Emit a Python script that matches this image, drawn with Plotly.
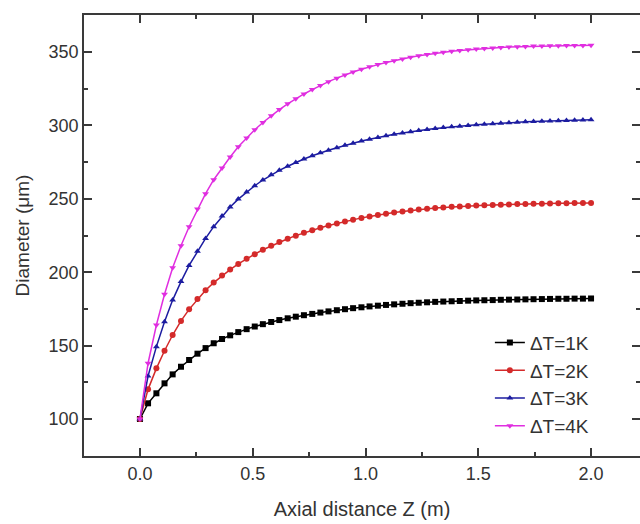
import plotly.graph_objects as go

# Axial distance Z (m) sample positions
z = [0.0, 0.036, 0.073, 0.109, 0.145, 0.182, 0.218, 0.255, 0.291, 0.327,
     0.364, 0.4, 0.436, 0.473, 0.509, 0.545, 0.582, 0.618, 0.655, 0.691,
     0.727, 0.764, 0.8, 0.836, 0.873, 0.909, 0.945, 0.982, 1.018, 1.055,
     1.091, 1.127, 1.164, 1.2, 1.236, 1.273, 1.309, 1.345, 1.382, 1.418,
     1.455, 1.491, 1.527, 1.564, 1.6, 1.636, 1.673, 1.709, 1.745, 1.782,
     1.818, 1.855, 1.891, 1.927, 1.964, 2.0]

d_1k = [100.0, 110.7, 117.5, 124.3, 130.4, 135.6, 140.2, 144.5, 148.3, 151.6,
        154.5, 157.0, 159.2, 161.2, 163.0, 164.6, 166.1, 167.4, 168.6, 169.7,
        170.7, 171.6, 172.5, 173.3, 174.1, 174.8, 175.5, 176.1, 176.7, 177.2,
        177.7, 178.1, 178.5, 178.9, 179.2, 179.5, 179.8, 180.0, 180.2, 180.4,
        180.6, 180.8, 180.9, 181.0, 181.2, 181.3, 181.4, 181.5, 181.6, 181.7,
        181.8, 181.9, 181.9, 182.0, 182.0, 182.1]

d_2k = [100.0, 120.2, 134.5, 146.5, 157.2, 166.8, 174.7, 181.7, 187.7, 192.9,
        197.7, 201.8, 205.6, 209.1, 212.3, 215.3, 218.0, 220.5, 222.8, 224.9,
        226.8, 228.6, 230.3, 231.8, 233.2, 234.6, 235.8, 237.0, 238.0, 239.0,
        239.9, 240.7, 241.4, 242.1, 242.7, 243.2, 243.7, 244.1, 244.5, 244.8,
        245.1, 245.4, 245.6, 245.8, 246.0, 246.2, 246.4, 246.5, 246.6, 246.7,
        246.8, 246.9, 247.0, 247.1, 247.1, 247.2]

d_3k = [100.0, 129.3, 149.3, 166.3, 181.0, 193.6, 204.6, 214.2, 223.0, 231.0,
        238.2, 244.4, 249.8, 254.6, 258.9, 262.8, 266.3, 269.4, 272.2, 274.8,
        277.1, 279.3, 281.3, 283.1, 284.8, 286.4, 287.9, 289.3, 290.6, 291.8,
        292.9, 293.9, 294.8, 295.7, 296.5, 297.2, 297.9, 298.5, 299.0, 299.5,
        300.0, 300.4, 300.8, 301.2, 301.5, 301.8, 302.1, 302.4, 302.6, 302.8,
        303.0, 303.2, 303.4, 303.5, 303.7, 303.9]

d_4k = [100.0, 138.0, 164.0, 185.0, 203.0, 218.0, 231.0, 243.0, 253.5, 263.0,
        271.0, 278.5, 285.5, 291.5, 297.0, 302.0, 306.5, 310.8, 314.7, 318.2,
        321.4, 324.4, 327.2, 329.8, 332.2, 334.4, 336.4, 338.2, 339.9, 341.4,
        342.8, 344.1, 345.3, 346.4, 347.4, 348.3, 349.1, 349.8, 350.5, 351.1,
        351.6, 352.0, 352.4, 352.8, 353.1, 353.4, 353.6, 353.8, 354.0, 354.1,
        354.2, 354.3, 354.4, 354.5, 354.5, 354.6]

series_names = ["ΔT=1K", "ΔT=2K", "ΔT=3K", "ΔT=4K"]
series_values = [d_1k, d_2k, d_3k, d_4k]
series_colors = ["#000000", "#d42a2a", "#1c1ca0", "#e02ee0"]
series_symbols = ["square", "circle", "triangle-up", "triangle-down"]

x_ticks = [0.0, 0.5, 1.0, 1.5, 2.0]
x_tick_labels = ["0.0", "0.5", "1.0", "1.5", "2.0"]
y_ticks = [100, 150, 200, 250, 300, 350]

FONT = "Liberation Sans, Arial, sans-serif"

fig = go.Figure()
for i, (name, vals, col, sym) in enumerate(zip(series_names, series_values, series_colors, series_symbols)):
    fig.add_trace(go.Scatter(
        x=z, y=vals, name=name, mode="lines+markers",
        line=dict(color=col, width=1.5),
        marker=dict(color=col, symbol=sym, size=6, line=dict(width=0)),
        legendgroup=f"g{i}",
    ))

axis_common = dict(
    showline=True, linecolor="#3a3a3a", linewidth=1.8, mirror="ticks",
    ticks="inside", ticklen=8, tickwidth=1.5, tickcolor="#3a3a3a",
    showgrid=False, zeroline=False, automargin=False,
    tickfont=dict(family=FONT, size=18, color="#333333"),
)

fig.update_layout(
    width=640, height=524,
    margin=dict(l=84, r=0, t=15, b=68),
    paper_bgcolor="white", plot_bgcolor="white",
    xaxis=dict(range=[-0.248, 2.217], tickvals=x_ticks, ticktext=x_tick_labels,
               minor=dict(dtick=0.25, tick0=0, ticks="inside", ticklen=4,
                          tickwidth=1.5, tickcolor="#3a3a3a"),
               title=dict(text="Axial distance Z (m)", standoff=19,
                          font=dict(family=FONT, size=20, color="#333333")),
               **axis_common),
    yaxis=dict(range=[74.8, 375.2], tickvals=y_ticks,
               minor=dict(dtick=25, tick0=0, ticks="inside", ticklen=4,
                          tickwidth=1.5, tickcolor="#3a3a3a"),
               title=dict(text="Diameter (μm)", standoff=14,
                          font=dict(family=FONT, size=19, color="#333333")),
               **axis_common),
    legend=dict(x=0.73, y=0.30, xanchor="left", yanchor="top",
                bgcolor="rgba(0,0,0,0)", tracegroupgap=0,
                font=dict(family=FONT, size=19, color="#333333")),
    showlegend=True,
)

fig.write_html(
    "out.html",
    config={"displayModeBar": False},
    post_script="document.body.style.margin='0';document.body.style.overflow='hidden';",
)
